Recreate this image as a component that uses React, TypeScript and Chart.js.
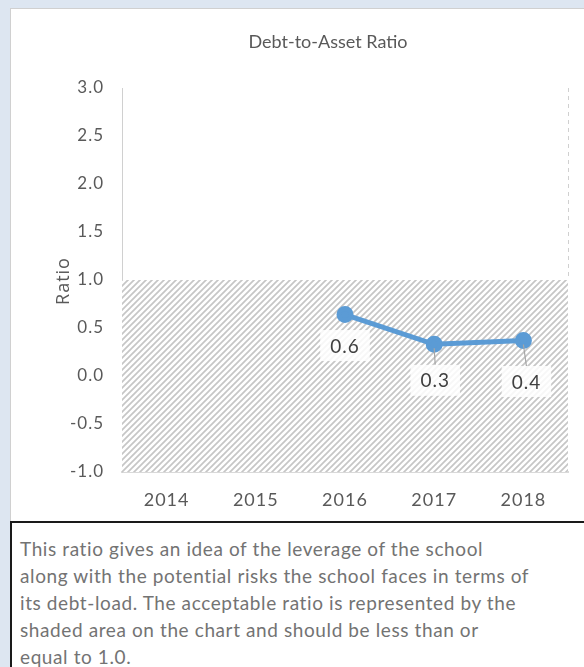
import React, { useEffect, useRef } from "react";
import { Chart, registerables } from "chart.js";

Chart.register(...registerables);

const years = ["2014", "2015", "2016", "2017", "2018"];
const ratioValues: (number | null)[] = [null, null, 0.64, 0.33, 0.37];
const valueLabels = ["", "", "0.6", "0.3", "0.4"];
const yMin = -1.0;
const yMax = 3.0;
const yStep = 0.5;
const acceptableLow = -1.0;
const acceptableHigh = 1.0;
const chartTitle = "Debt-to-Asset Ratio";
const yAxisTitle = "Ratio";
const noteLines = [
  "This ratio gives an idea of the leverage of the school",
  "along with the potential risks the school faces in terms of",
  "its debt-load. The acceptable ratio is represented by the",
  "shaded area on the chart and should be less than or",
  "equal to 1.0.",
];

const FONT = "Lato";
const TEXT = "#595959";

Chart.defaults.font.family = FONT;
Chart.defaults.color = TEXT;

function makeHatch(ctx: CanvasRenderingContext2D) {
  const s = 6;
  const c = document.createElement("canvas");
  c.width = s;
  c.height = s;
  const g = c.getContext("2d")!;
  g.fillStyle = "#ffffff";
  g.fillRect(0, 0, s, s);
  g.strokeStyle = "#c6c6c6";
  g.lineWidth = 1.7;
  g.beginPath();
  g.moveTo(-1, s + 1);
  g.lineTo(s + 1, -1);
  g.moveTo(-2, 2);
  g.lineTo(2, -2);
  g.moveTo(s - 2, s + 2);
  g.lineTo(s + 2, s - 2);
  g.stroke();
  return ctx.createPattern(c, "repeat")!;
}

const spacingPlugin = {
  id: "letterSpacing",
  beforeLayout(chart: any) {
    chart.ctx.letterSpacing = "1px";
  },
  beforeDraw(chart: any) {
    chart.ctx.letterSpacing = "1px";
  },
};

const titlePlugin = {
  id: "offsetTitle",
  afterDraw(chart: any) {
    const { ctx } = chart;
    ctx.save();
    ctx.letterSpacing = "0px";
    ctx.font = `18px ${FONT}`;
    ctx.fillStyle = TEXT;
    ctx.textAlign = "center";
    ctx.textBaseline = "middle";
    ctx.fillText(chartTitle, 318, 34);
    ctx.restore();
  },
};

const hatchPlugin = {
  id: "hatchZone",
  beforeDatasetsDraw(chart: any) {
    const { ctx, chartArea, scales } = chart;
    const y = scales.y;
    const top = y.getPixelForValue(acceptableHigh);
    const bottom = y.getPixelForValue(acceptableLow);
    ctx.save();
    ctx.fillStyle = makeHatch(ctx);
    ctx.fillRect(chartArea.left, top, chartArea.right - chartArea.left, bottom - top);
    ctx.strokeStyle = "#d0d0d0";
    ctx.lineWidth = 1;
    ctx.setLineDash([4, 4]);
    ctx.beginPath();
    ctx.moveTo(chartArea.right + 0.5, chartArea.top);
    ctx.lineTo(chartArea.right + 0.5, top);
    ctx.stroke();
    ctx.restore();
  },
};

const labelOffsets = [
  [0, 0],
  [0, 0],
  [0, 31],
  [1, 36],
  [3, 41],
];

const labelPlugin = {
  id: "valueLabels",
  afterDatasetsDraw(chart: any) {
    const { ctx } = chart;
    const meta = chart.getDatasetMeta(0);
    ctx.save();
    ctx.font = `19px ${FONT}`;
    ctx.textAlign = "center";
    ctx.textBaseline = "middle";
    meta.data.forEach((pt: any, i: number) => {
      const v = ratioValues[i];
      if (v === null || v === undefined) return;
      const [dx, dy] = labelOffsets[i];
      const lx = pt.x + dx;
      const ly = pt.y + dy;
      const text = valueLabels[i];
      const w = ctx.measureText(text).width + 20;
      const h = 31;
      if (dy > 32) {
        ctx.strokeStyle = "#a6a6a6";
        ctx.lineWidth = 1.2;
        ctx.beginPath();
        ctx.moveTo(pt.x, pt.y + 4);
        ctx.lineTo(lx, ly - h / 2);
        ctx.stroke();
      }
      ctx.fillStyle = "rgba(255,255,255,0.85)";
      ctx.fillRect(lx - w / 2, ly - h / 2, w, h);
      ctx.fillStyle = "#404040";
      ctx.fillText(text, lx, ly + 1);
    });
    ctx.restore();
  },
};

function RatioChart() {
  const ref = useRef<HTMLCanvasElement>(null);
  useEffect(() => {
    const chart = new Chart(ref.current!, {
      type: "line",
      data: {
        labels: years,
        datasets: [
          {
            label: chartTitle,
            data: ratioValues,
            borderColor: "#5b9bd5",
            backgroundColor: "#5b9bd5",
            borderWidth: 5,
            pointRadius: 6,
            pointHoverRadius: 6,
            spanGaps: false,
          },
        ],
      },
      options: {
        animation: false,
        responsive: false,
        layout: { padding: { left: 0, right: 16, top: 80, bottom: 0 } },
        plugins: {
          legend: { display: false },
          tooltip: { enabled: false },
          title: { display: false },
        },
        scales: {
          x: {
            offset: true,
            grid: { display: false, drawTicks: false },
            border: { display: true, color: "#d9d9d9", width: 2 },
            ticks: {
              color: TEXT,
              font: { family: FONT, size: 18 },
              padding: 17,
            },
            afterFit(scale: any) {
              scale.height = 50;
            },
          },
          y: {
            min: yMin,
            max: yMax,
            grid: { display: false, drawTicks: false },
            border: { display: true, color: "#d0d0d0", dash: [4, 4], width: 1 },
            ticks: {
              stepSize: yStep,
              color: TEXT,
              font: { family: FONT, size: 17 },
              padding: 18,
              callback: (v: any) => Number(v).toFixed(1),
            },
            title: { display: false },
            afterFit(scale: any) {
              scale.width = 112;
            },
          },
        },
      } as any,
      plugins: [spacingPlugin, hatchPlugin, labelPlugin, titlePlugin],
    });
    return () => chart.destroy();
  }, []);
  return <canvas ref={ref} width={574} height={514} style={{ display: "block" }} />;
}

export default function App() {
  return (
    <div
      style={{
        position: "fixed",
        left: 0,
        top: 0,
        width: 584,
        height: 667,
        background: "#dde6f1",
        overflow: "hidden",
      }}
    >
      <div
        style={{
          position: "absolute",
          left: 10,
          top: 8,
          width: 580,
          height: 514,
          background: "#ffffff",
          borderTop: "1px solid #d0d0d0",
          borderLeft: "1px solid #d0d0d0",
          boxSizing: "border-box",
        }}
      >
        <div style={{ position: "absolute", left: -1, top: -1 }}>
          <RatioChart />
        </div>
        <div
          style={{
            position: "absolute",
            left: 52 - 40 - 1,
            top: 273 - 12 - 1,
            width: 80,
            height: 24,
            lineHeight: "24px",
            textAlign: "center",
            transform: "rotate(-90deg)",
            fontFamily: "'Open Sans', sans-serif",
            fontSize: 18,
            letterSpacing: "1px",
            color: TEXT,
          }}
        >
          {yAxisTitle}
        </div>
      </div>
      <div
        style={{
          position: "absolute",
          left: 10,
          top: 521,
          width: 590,
          height: 160,
          background: "#ffffff",
          border: "2px solid #1a1a1a",
          boxSizing: "border-box",
          padding: "12px 0 0 8px",
          fontFamily: FONT,
          fontSize: 19,
          letterSpacing: "0.6px",
          lineHeight: "27px",
          color: "#737373",
          whiteSpace: "nowrap",
        }}
      >
        {noteLines.map((l, i) => (
          <div key={i}>{l}</div>
        ))}
      </div>
    </div>
  );
}
